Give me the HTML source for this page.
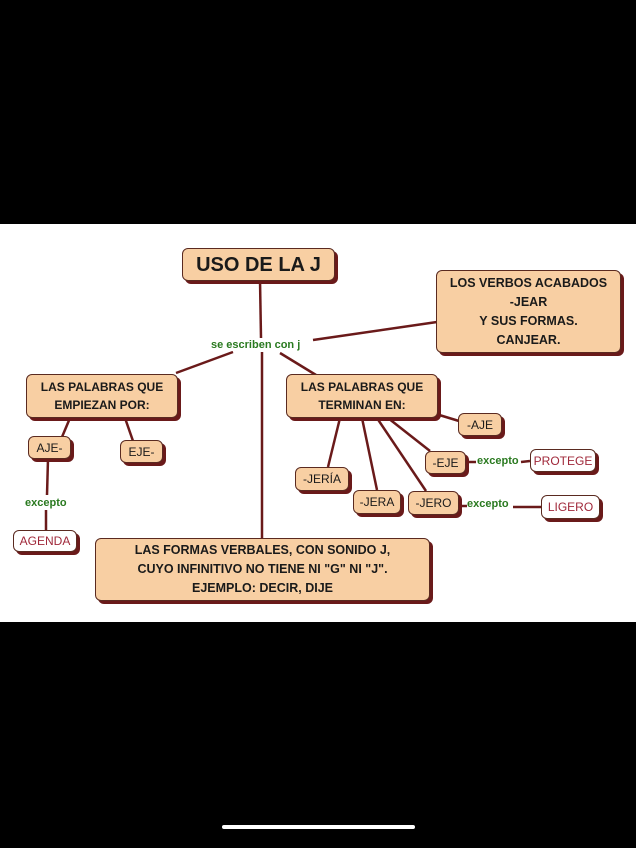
<!DOCTYPE html>
<html><head><meta charset="utf-8"><style>
body{margin:0;width:636px;height:848px;background:#000;position:relative;overflow:hidden;font-family:"Liberation Sans",sans-serif}
#w{position:absolute;left:0;top:224px;width:636px;height:398px;background:#fff}
.b{position:absolute;box-sizing:border-box;background:#f8cfa3;border:1px solid #5a2a20;border-radius:6px;box-shadow:3px 3px 0 #6a1a1a;display:flex;align-items:center;justify-content:center;text-align:center;font-weight:bold;color:#1a1a1a;font-size:12px;line-height:18px}
.wh{background:#fff;color:#a0283a;font-weight:normal}
.n{font-weight:normal}
.g{position:absolute;color:#2a7a20;font-size:11px;font-weight:bold;background:#fff;line-height:12px}
svg{position:absolute;left:0;top:0}
#bar{position:absolute;left:222px;top:825px;width:193px;height:4px;border-radius:2px;background:#fff}
</style></head><body>
<div id="w"></div>
<svg width="636" height="848"><g stroke="#6a1a1a" stroke-width="2.5" fill="none">
<line x1="260" y1="280" x2="261" y2="338"/><line x1="262" y1="352" x2="262" y2="540"/>
<line x1="233" y1="352" x2="176" y2="373"/><line x1="280" y1="353" x2="316" y2="375"/>
<line x1="313" y1="340" x2="437" y2="322"/>
<line x1="70" y1="418" x2="62" y2="437"/><line x1="125" y1="418" x2="133" y2="441"/>
<line x1="48" y1="459" x2="47" y2="495"/><line x1="46" y1="510" x2="46" y2="530"/>
<line x1="340" y1="418" x2="328" y2="467"/><line x1="362" y1="418" x2="377" y2="490"/>
<line x1="377" y1="418" x2="426" y2="491"/><line x1="388" y1="418" x2="430" y2="451"/>
<line x1="436" y1="414" x2="459" y2="421"/>
<line x1="466" y1="462" x2="476" y2="462"/><line x1="521" y1="462" x2="530" y2="461"/>
<line x1="460" y1="506" x2="467" y2="506"/><line x1="513" y1="507" x2="542" y2="507"/>
</g></svg>
<div class="b" style="left:182px;top:248px;width:153px;height:33px;font-size:20px">USO DE LA J</div>
<div class="b" style="left:436px;top:270px;width:185px;height:83px;font-size:12.5px;line-height:19px">LOS VERBOS ACABADOS<br>-JEAR<br>Y SUS FORMAS.<br>CANJEAR.</div>
<div class="g" style="left:211px;top:339px">se escriben con j</div>
<div class="b" style="left:26px;top:374px;width:152px;height:44px">LAS PALABRAS QUE<br>EMPIEZAN POR:</div>
<div class="b" style="left:286px;top:374px;width:152px;height:44px">LAS PALABRAS QUE<br>TERMINAN EN:</div>
<div class="b n" style="left:28px;top:436px;width:43px;height:23px">AJE-</div>
<div class="b n" style="left:120px;top:440px;width:43px;height:23px">EJE-</div>
<div class="g" style="left:25px;top:497px">excepto</div>
<div class="b wh" style="left:13px;top:530px;width:64px;height:22px">AGENDA</div>
<div class="b n" style="left:458px;top:413px;width:44px;height:23px">-AJE</div>
<div class="b n" style="left:425px;top:451px;width:41px;height:23px">-EJE</div>
<div class="g" style="left:477px;top:455px">excepto</div>
<div class="b wh" style="left:530px;top:449px;width:66px;height:23px">PROTEGE</div>
<div class="b n" style="left:295px;top:467px;width:54px;height:24px">-JERÍA</div>
<div class="b n" style="left:353px;top:490px;width:48px;height:24px">-JERA</div>
<div class="b n" style="left:408px;top:491px;width:51px;height:24px">-JERO</div>
<div class="g" style="left:467px;top:498px">excepto</div>
<div class="b wh" style="left:541px;top:495px;width:59px;height:24px">LIGERO</div>
<div class="b" style="left:95px;top:538px;width:335px;height:63px;font-size:12.5px;line-height:19px">LAS FORMAS VERBALES, CON SONIDO J,<br>CUYO INFINITIVO NO TIENE NI "G" NI "J".<br>EJEMPLO: DECIR, DIJE</div>
<div id="bar"></div>
</body></html>
